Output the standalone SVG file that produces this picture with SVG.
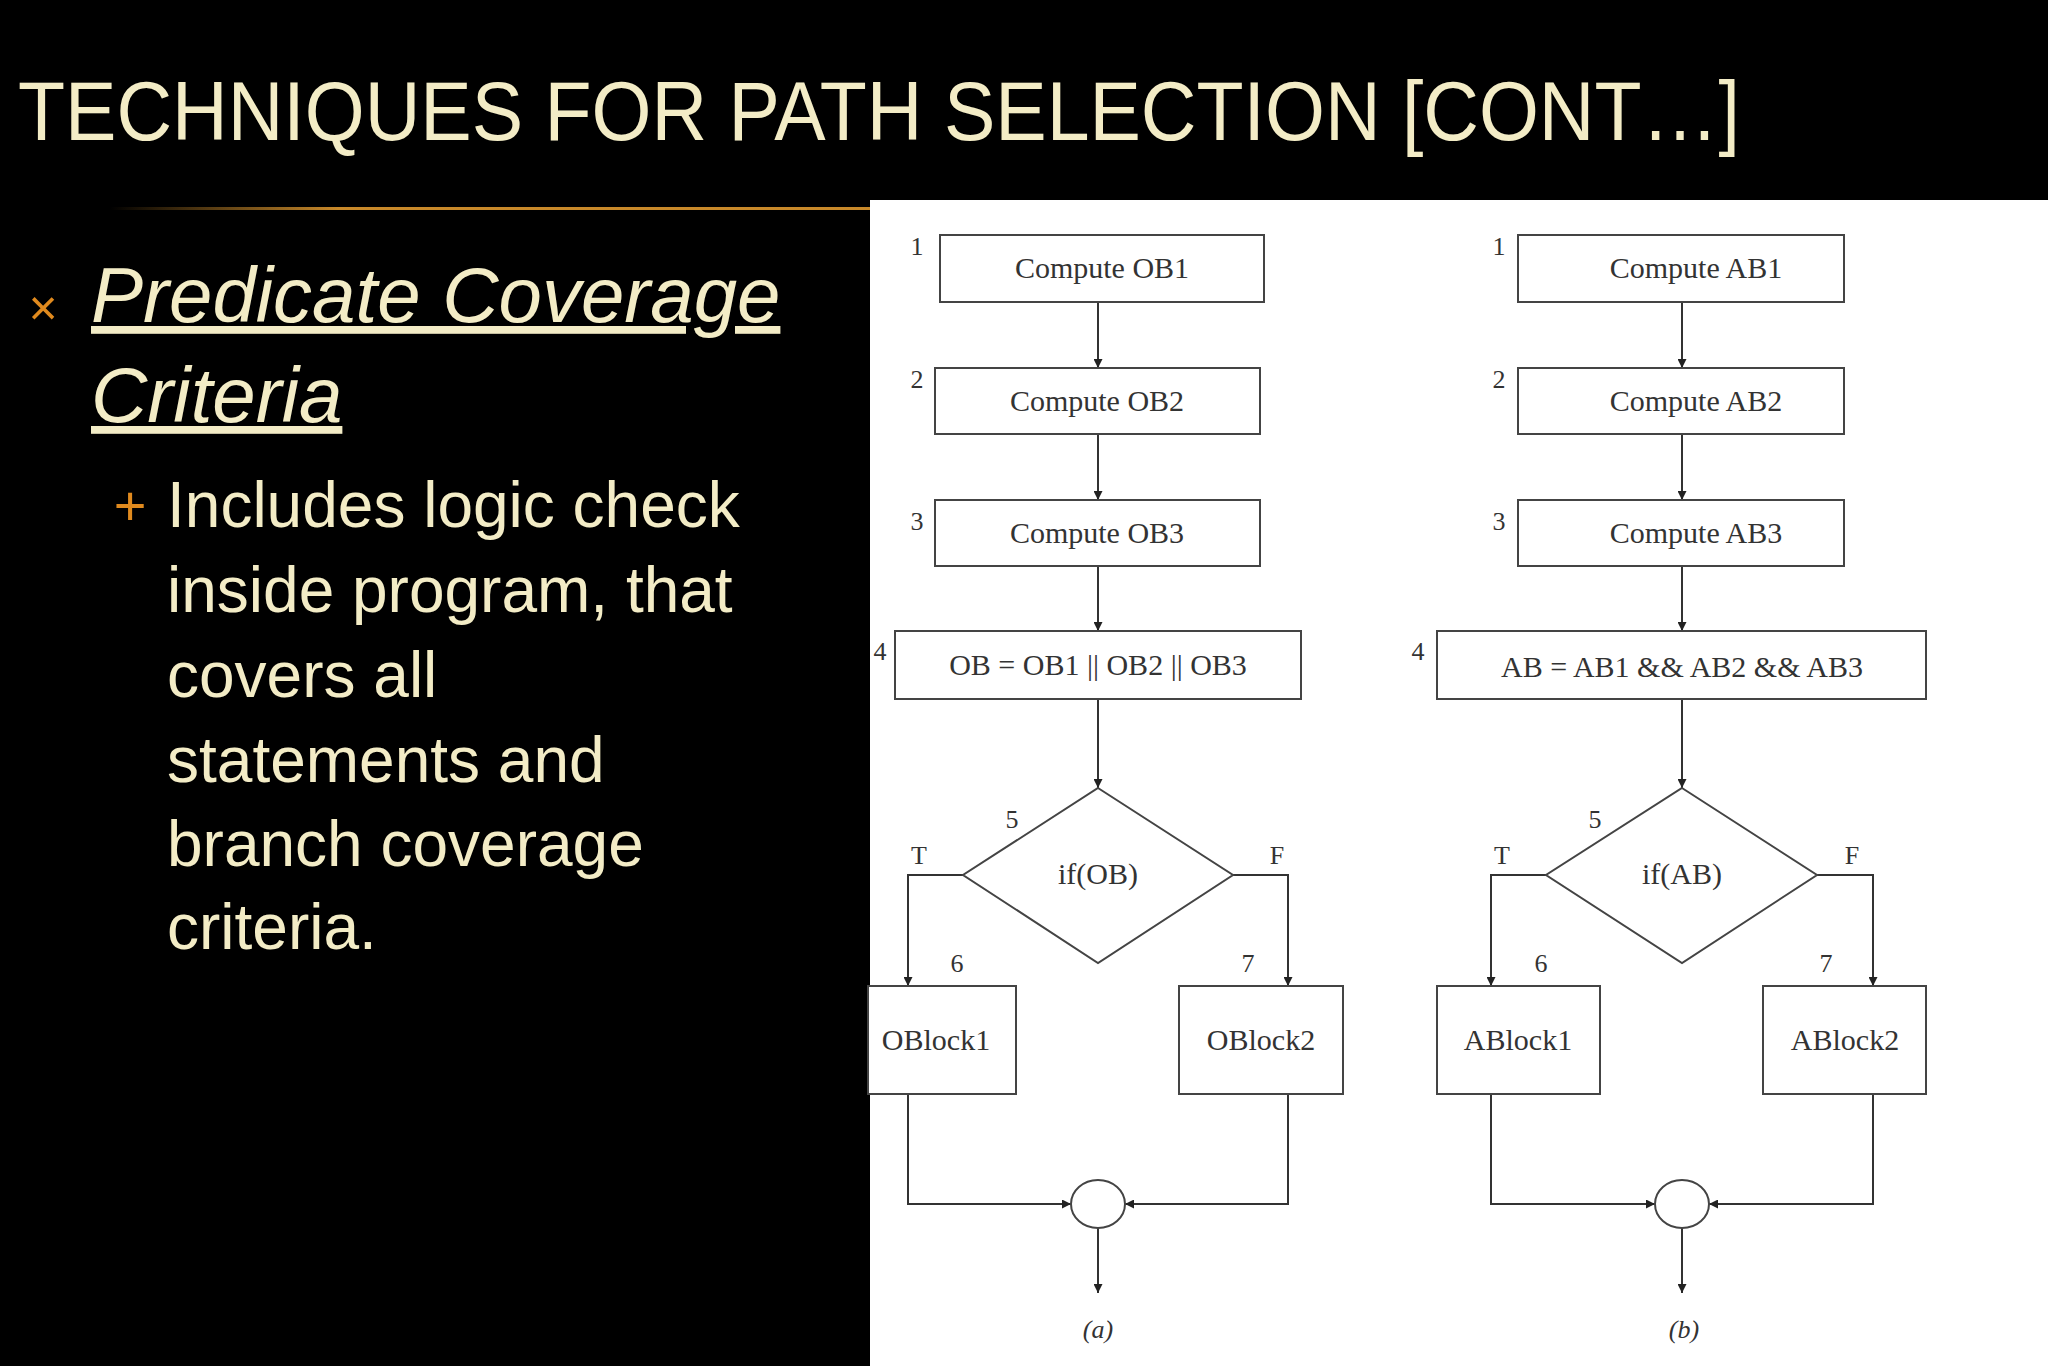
<svg xmlns="http://www.w3.org/2000/svg" width="2048" height="1366" viewBox="0 0 2048 1366">
<defs>
<marker id="ah" viewBox="0 0 10 10" refX="10" refY="5" markerWidth="9" markerHeight="9" markerUnits="userSpaceOnUse" orient="auto"><path d="M0,0 L10,5 L0,10 z" fill="#222"/></marker>
<linearGradient id="ol" x1="0" x2="1"><stop offset="0" stop-color="#c8892a" stop-opacity="0"/><stop offset="0.3" stop-color="#c8892a"/><stop offset="1" stop-color="#c8892a"/></linearGradient>
<style>
.bx{fill:#fff;stroke:#444;stroke-width:2}
.t{font-family:"Liberation Serif",serif;font-size:30px;fill:#333;text-anchor:middle}
.n{font-family:"Liberation Serif",serif;font-size:26px;fill:#333;text-anchor:middle}
.c{stroke:#333;stroke-width:2;fill:none;marker-end:url(#ah)}
.l{stroke:#333;stroke-width:2;fill:none}
.w{font-family:"Liberation Sans",Arial,sans-serif;fill:#f3ecc6}
</style>
</defs>
<rect width="2048" height="1366" fill="#000"/>
<text x="18" y="140" font-family="Liberation Sans Narrow,Liberation Sans,sans-serif" font-size="84" fill="#f3ecc6" textLength="1722" lengthAdjust="spacingAndGlyphs">TECHNIQUES FOR PATH SELECTION [CONT…]</text>
<rect x="110" y="207" width="760" height="3" fill="url(#ol)"/>
<rect x="870" y="200" width="1178" height="1166" fill="#fff"/>
<text x="43" y="325" font-family="Liberation Sans,sans-serif" font-size="50" fill="#e08a1e" text-anchor="middle">×</text>
<text class="w" x="91" y="322" font-size="78" font-style="italic" text-decoration="underline">Predicate Coverage</text>
<text class="w" x="91" y="422" font-size="78" font-style="italic" text-decoration="underline">Criteria</text>
<text x="130" y="525" font-family="Liberation Sans,sans-serif" font-size="56" fill="#e08a1e" text-anchor="middle">+</text>
<g class="w" font-size="64">
<text x="167" y="527">Includes logic check</text>
<text x="167" y="612">inside program, that</text>
<text x="167" y="697">covers all</text>
<text x="167" y="782">statements and</text>
<text x="167" y="866">branch coverage</text>
<text x="167" y="949">criteria.</text>
</g>
<g id="connectors">
<path class="c" d="M1098,302 V368"/><path class="c" d="M1098,434 V500"/><path class="c" d="M1098,566 V631"/><path class="c" d="M1098,699 V788"/>
<path class="c" d="M963,875 H908 V986"/><path class="c" d="M1233,875 H1288 V986"/>
<path class="c" d="M908,1094 V1204 H1071"/><path class="c" d="M1288,1094 V1204 H1125"/><path class="c" d="M1098,1228 V1293"/>
<path class="c" d="M1682,302 V368"/><path class="c" d="M1682,434 V500"/><path class="c" d="M1682,566 V631"/><path class="c" d="M1682,699 V788"/>
<path class="c" d="M1546,875 H1491 V986"/><path class="c" d="M1817,875 H1873 V986"/>
<path class="c" d="M1491,1094 V1204 H1655"/><path class="c" d="M1873,1094 V1204 H1709"/><path class="c" d="M1682,1228 V1293"/>
</g>
<g id="a1"><rect class="bx" x="940" y="235" width="324" height="67"/><text class="t" x="1102" y="278">Compute OB1</text><text class="n" x="917" y="255">1</text></g>
<g id="a2"><rect class="bx" x="935" y="368" width="325" height="66"/><text class="t" x="1097" y="411">Compute OB2</text><text class="n" x="917" y="388">2</text></g>
<g id="a3"><rect class="bx" x="935" y="500" width="325" height="66"/><text class="t" x="1097" y="543">Compute OB3</text><text class="n" x="917" y="530">3</text></g>
<g id="a4"><rect class="bx" x="895" y="631" width="406" height="68"/><text class="t" x="1098" y="675">OB = OB1 || OB2 || OB3</text><text class="n" x="880" y="660">4</text></g>
<g id="a5"><polygon class="bx" points="1098,788 1233,875 1098,963 963,875"/><text class="t" x="1098" y="884">if(OB)</text><text class="n" x="1012" y="828">5</text><text class="n" x="919" y="864">T</text><text class="n" x="1277" y="864">F</text></g>
<g id="a6"><rect class="bx" x="868" y="986" width="148" height="108"/><text class="t" x="936" y="1050">OBlock1</text><text class="n" x="957" y="972">6</text></g>
<g id="a7"><rect class="bx" x="1179" y="986" width="164" height="108"/><text class="t" x="1261" y="1050">OBlock2</text><text class="n" x="1248" y="972">7</text></g>
<g id="a8"><ellipse class="bx" cx="1098" cy="1204" rx="27" ry="24"/><text class="n" x="1098" y="1338" font-style="italic">(a)</text></g>
<g id="b1"><rect class="bx" x="1518" y="235" width="326" height="67"/><text class="t" x="1696" y="278">Compute AB1</text><text class="n" x="1499" y="255">1</text></g>
<g id="b2"><rect class="bx" x="1518" y="368" width="326" height="66"/><text class="t" x="1696" y="411">Compute AB2</text><text class="n" x="1499" y="388">2</text></g>
<g id="b3"><rect class="bx" x="1518" y="500" width="326" height="66"/><text class="t" x="1696" y="543">Compute AB3</text><text class="n" x="1499" y="530">3</text></g>
<g id="b4"><rect class="bx" x="1437" y="631" width="489" height="68"/><text class="t" x="1682" y="677">AB = AB1 &amp;&amp; AB2 &amp;&amp; AB3</text><text class="n" x="1418" y="660">4</text></g>
<g id="b5"><polygon class="bx" points="1682,788 1817,875 1682,963 1546,875"/><text class="t" x="1682" y="884">if(AB)</text><text class="n" x="1595" y="828">5</text><text class="n" x="1502" y="864">T</text><text class="n" x="1852" y="864">F</text></g>
<g id="b6"><rect class="bx" x="1437" y="986" width="163" height="108"/><text class="t" x="1518" y="1050">ABlock1</text><text class="n" x="1541" y="972">6</text></g>
<g id="b7"><rect class="bx" x="1763" y="986" width="163" height="108"/><text class="t" x="1845" y="1050">ABlock2</text><text class="n" x="1826" y="972">7</text></g>
<g id="b8"><ellipse class="bx" cx="1682" cy="1204" rx="27" ry="24"/><text class="n" x="1684" y="1338" font-style="italic">(b)</text></g>
</svg>
